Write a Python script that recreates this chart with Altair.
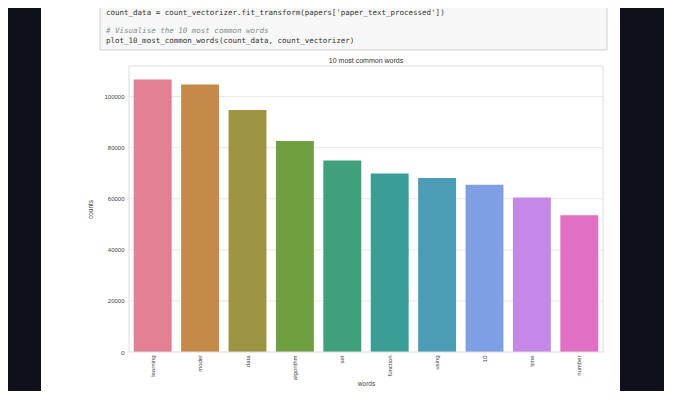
import altair as alt
import pandas as pd

words = ["learning", "model", "data", "algorithm", "set", "function", "using", "10", "time", "number"]
counts = [106700, 104800, 94800, 82600, 75000, 69900, 68100, 65500, 60500, 53600]
colors = ["#e27f93", "#c5894a", "#9c9440", "#6f9f3f", "#3fa07a", "#3a9e95", "#4a9db4",
          "#7f9fe5", "#c588e6", "#e070c3"]
y_ticks = [0, 20000, 40000, 60000, 80000, 100000]
chart_title = "10 most common words"

code_lines = [
    "count_data = count_vectorizer.fit_transform(papers['paper_text_processed'])",
    "# Visualise the 10 most common words",
    "plot_10_most_common_words(count_data, count_vectorizer)",
]

df = pd.DataFrame({"words": words, "counts": counts})

FONT = "Liberation Sans"

panel = alt.Chart(pd.DataFrame({"k": [0]})).mark_rect(color="white").encode(
    x=alt.value(-88), x2=alt.value(491), y=alt.value(-70), y2=alt.value(333)
)
codebox = alt.Chart(pd.DataFrame({"k": [0]})).mark_rect(
    color="#f7f7f7", stroke="#cfcfcf", strokeWidth=1
).encode(x=alt.value(-29), x2=alt.value(478), y=alt.value(-70), y2=alt.value(-16))

code1 = alt.Chart(pd.DataFrame({"t": [code_lines[0]]})).mark_text(
    font="DejaVu Sans Mono", fontSize=7.5, align="left", baseline="middle", color="#333333"
).encode(x=alt.value(-23), y=alt.value(-53), text="t:N")
code2 = alt.Chart(pd.DataFrame({"t": [code_lines[1]]})).mark_text(
    font="DejaVu Sans Mono", fontSize=7.5, align="left", baseline="middle", color="#7f8f8f",
    fontStyle="italic"
).encode(x=alt.value(-23), y=alt.value(-35), text="t:N")
code3 = alt.Chart(pd.DataFrame({"t": [code_lines[2]]})).mark_text(
    font="DejaVu Sans Mono", fontSize=7.5, align="left", baseline="middle", color="#333333"
).encode(x=alt.value(-23), y=alt.value(-25), text="t:N")

title_text = alt.Chart(pd.DataFrame({"t": [chart_title]})).mark_text(
    font=FONT, fontSize=7, align="center", baseline="middle", color="#333333"
).encode(x=alt.value(237), y=alt.value(-5), text="t:N")

bars = alt.Chart(df).mark_bar(strokeWidth=0).encode(
    x=alt.X("words:N", sort=words,
            scale=alt.Scale(paddingInner=0.2, paddingOuter=0.1),
            axis=alt.Axis(title="words", labelAngle=-90, labelAlign="right",
                          labelBaseline="middle", ticks=False, domain=False, grid=False,
                          labelPadding=3, labelFontSize=6, titleFontSize=6.5,
                          labelColor="#444444", titleColor="#444444",
                          labelFont=FONT, titleFont=FONT, titleFontWeight="normal",
                          titlePadding=1, zindex=2)),
    y=alt.Y("counts:Q", scale=alt.Scale(domain=[0, 112000], nice=False),
            axis=alt.Axis(title="counts", values=y_ticks, format="d", ticks=False,
                          domain=False, grid=False, labelPadding=5, labelFontSize=6,
                          titleFontSize=6.5, labelColor="#444444", titleColor="#444444",
                          labelFont=FONT, titleFont=FONT, titleFontWeight="normal",
                          titlePadding=10, zindex=2)),
    color=alt.Color("words:N", sort=words, scale=alt.Scale(domain=words, range=colors),
                    legend=None),
)

grid = alt.Chart(pd.DataFrame({"g": y_ticks[1:]})).mark_rule(
    color="#e8e8e8", strokeWidth=1
).encode(y=alt.Y("g:Q", scale=alt.Scale(domain=[0, 112000], nice=False)))

frame = alt.Chart(pd.DataFrame({"k": [0]})).mark_rect(
    filled=False, stroke="#dcdcdc", strokeWidth=1
).encode(x=alt.value(0), x2=alt.value(474), y=alt.value(0), y2=alt.value(286))

chart = alt.layer(panel, codebox, code1, code2, code3, title_text, grid, bars, frame).properties(
    width=474, height=286,
    autosize=alt.AutoSizeParams(type="none"),
    padding={"left": 121, "top": 58, "right": 61, "bottom": 39},
).configure(background="#0e1119").configure_view(strokeWidth=0)

chart.save("out.html", embed_options={"renderer": "svg", "actions": False})
